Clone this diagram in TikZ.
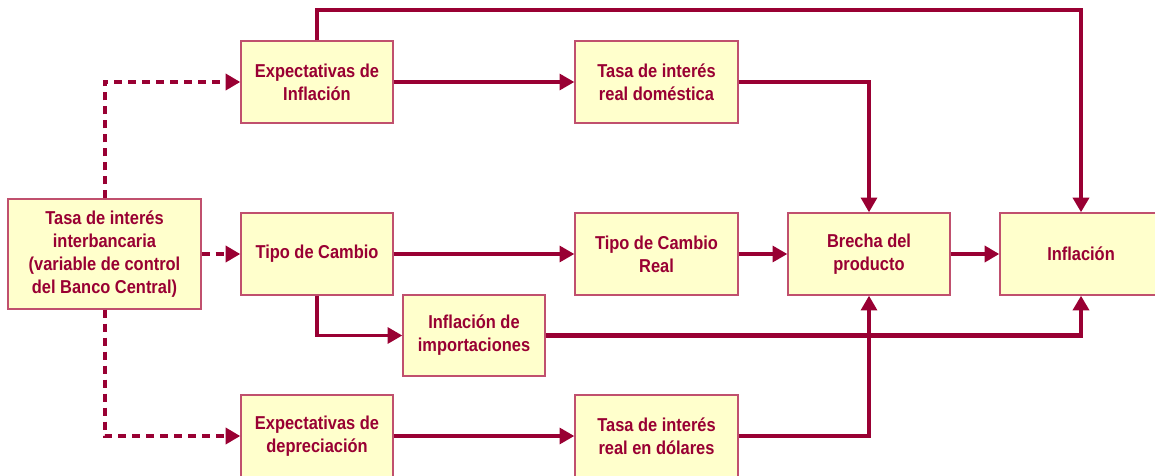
\documentclass[tikz,border=0pt]{standalone}
\usepackage{fontspec}
\setmainfont{Liberation Sans}
\newfontfamily\boxfont[FakeStretch=0.88]{Liberation Sans}
\usetikzlibrary{arrows.meta}
\definecolor{dred}{HTML}{990033}
\definecolor{bord}{HTML}{C0506E}
\definecolor{fillc}{HTML}{FFFFCC}
\tikzset{
  box/.style={draw=bord, line width=1.1pt, fill=fillc, inner sep=0pt, align=center,
    font=\boxfont\bfseries\fontsize{14}{17.3}\selectfont, text=dred, minimum height=61.5pt},
  conn/.style={draw=dred, line width=2.3pt, -{Triangle[length=11pt,width=12pt]}},
  thickconn/.style={conn, line width=3.6pt},
  dashconn/.style={conn, line width=3pt, dash pattern=on 6pt off 4.5pt},
}
\begin{document}
\begin{tikzpicture}[x=0.75pt,y=-0.75pt]
\useasboundingbox (0,0) rectangle (1155,475);
\node[box, minimum width=144.75pt, minimum height=82.5pt] (tib) at (104.5,254) {Tasa de interés\\interbancaria\\(variable de control\\del Banco Central)};
\node[box, minimum width=114pt] (ei) at (317,82) {Expectativas de\\Inflación};
\node[box, minimum width=122.25pt] (trd) at (656.5,82) {Tasa de interés\\real doméstica};
\node[box, minimum width=114pt] (tc) at (317,254) {Tipo de Cambio};
\node[box, minimum width=122.25pt] (tcr) at (656.5,254) {Tipo de Cambio\\Real};
\node[box, minimum width=121.5pt] (bp) at (869,254) {Brecha del\\producto};
\node[box, minimum width=121.5pt] (inf) at (1081,254) {Inflación};
\node[box, minimum width=106.5pt, minimum height=60.75pt] (ii) at (474,335.5) {Inflación de\\importaciones};
\node[box, minimum width=114pt] (ed) at (317,436) {Expectativas de\\depreciación};
\node[box, minimum width=122.25pt] (tdl) at (656.5,436) {Tasa de interés\\real en dólares};
\coordinate (topy) at (0,10);
% dashed
\draw[dashconn] (tib.north) |- (ei.west);
\draw[dashconn] (tib.east) -- (tc.west);
\draw[dashconn] (tib.south) |- (ed.west);
% top route
\draw[thickconn] (ei.north) -- (ei.north |- topy) -| (inf.north);
\draw[conn] (ei.east) -- (trd.west);
\draw[conn] (trd.east) -| (bp.north);
\draw[conn] (tc.east) -- (tcr.west);
\draw[conn] (tcr.east) -- (bp.west);
\draw[thickconn] (bp.east) -- (inf.west);
\draw[conn] (tc.south) |- (ii.west);
\draw[thickconn] (ii.east) -| (inf.south);
\draw[conn] (ed.east) -- (tdl.west);
\draw[conn] (tdl.east) -| (bp.south);
\end{tikzpicture}
\end{document}
